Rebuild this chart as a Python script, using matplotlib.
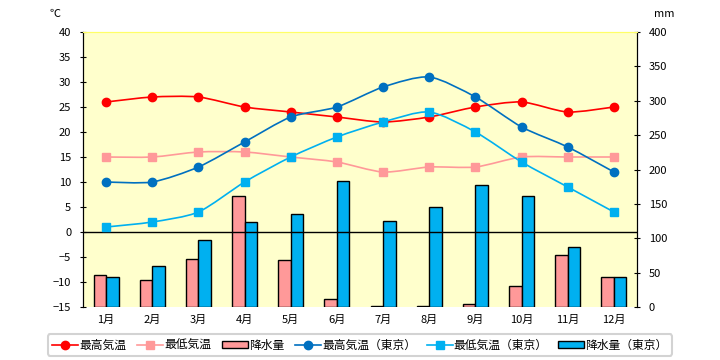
import numpy as np
import matplotlib
matplotlib.use("Agg")
from matplotlib import pyplot as plt
from matplotlib.path import Path
from matplotlib.patches import PathPatch, Patch
from matplotlib.lines import Line2D

plt.rcParams['font.family'] = ['Noto Sans CJK JP', 'DejaVu Sans']

months = ['1月', '2月', '3月', '4月', '5月', '6月',
          '7月', '8月', '9月', '10月', '11月', '12月']

# temperatures (deg C)
highLocal = [26, 27, 27, 25, 24, 23, 22, 23, 25, 26, 24, 25]
lowLocal = [15, 15, 16, 16, 15, 14, 12, 13, 13, 15, 15, 15]
highTokyo = [10, 10, 13, 18, 23, 25, 29, 31, 27, 21, 17, 12]
lowTokyo = [1, 2, 4, 10, 15, 19, 22, 24, 20, 14, 9, 4]

# precipitation (mm)
rainLocal = [47, 39, 70, 161, 69, 12, 1, 2, 5, 31, 75, 43]
rainTokyo = [43, 59, 98, 123, 136, 184, 125, 146, 178, 162, 88, 44]

names = ['最高気温', '最低気温', '降水量',
         '最高気温（東京）', '最低気温（東京）', '降水量（東京）']

cRed = '#FF0000'
cPink = '#FF9999'
cNavy = '#0070C0'
cCyan = '#00B0F0'


def smoothPath(x, y, k=1 / 8.0):
    # Excel style smoothed line: Catmull-Rom like segments as cubic Beziers
    pts = np.column_stack([x, y]).astype(float)
    verts = [pts[0]]
    codes = [Path.MOVETO]
    n = len(pts)
    for i in range(n - 1):
        p0 = pts[i - 1] if i > 0 else pts[i]
        p3 = pts[i + 2] if i + 2 < n else pts[i + 1]
        c1 = pts[i] + (pts[i + 1] - p0) * k
        c2 = pts[i + 1] - (p3 - pts[i]) * k
        verts += [c1, c2, pts[i + 1]]
        codes += [Path.CURVE4] * 3
    return Path(verts, codes)


fig = plt.figure(figsize=(7.2, 3.6), dpi=100)
axBar = fig.add_axes([83 / 720, 1 - 307 / 360, 554 / 720, 275 / 360])
axBar.set_facecolor('#FFFFCC')
axLine = axBar.twinx()

ind = np.arange(len(months))
width = 0.27
axBar.bar(ind - width / 2, rainLocal, width, color=cPink, edgecolor='black', linewidth=1)
axBar.bar(ind + width / 2, rainTokyo, width, color=cCyan, edgecolor='black', linewidth=1)
axBar.set_ylim(0, 400)
axBar.set_xlim(-0.5, 11.5)
axBar.yaxis.tick_right()
axBar.set_yticks(range(0, 401, 50))
axBar.tick_params(axis='y', direction='inout', length=5, labelsize=8, pad=6)
axBar.set_xticks(ind)
axBar.set_xticklabels(months, fontsize=8)
axBar.tick_params(axis='x', length=0, pad=6)

axLine.yaxis.tick_left()
axLine.set_ylim(-15, 40)
axLine.set_yticks(range(-15, 41, 5))
axLine.tick_params(axis='y', direction='inout', length=5, labelsize=8, pad=6)
axLine.axhline(0, color='black', linewidth=1)

series = [(highLocal, cRed, 'o'), (lowLocal, cPink, 's'),
          (highTokyo, cNavy, 'o'), (lowTokyo, cCyan, 's')]
for vals, col, mk in series:
    axLine.add_patch(PathPatch(smoothPath(ind, vals), facecolor='none',
                               edgecolor=col, linewidth=1.2))
    axLine.plot(ind, vals, linestyle='none', marker=mk, markersize=6,
                color=col, markeredgecolor=col)

for ax in (axBar, axLine):
    ax.spines['bottom'].set_visible(False)
    ax.spines['top'].set_color('#FFFF66')
    ax.spines['left'].set_color('black')
    ax.spines['right'].set_color('black')

fig.text(55 / 720, 1 - 14 / 360, '℃', fontsize=8, ha='center', va='center')
fig.text(664 / 720, 1 - 14 / 360, 'mm', fontsize=8, ha='center', va='center')

handles = [
    Line2D([], [], color=cRed, marker='o', markersize=6, linewidth=1.2),
    Line2D([], [], color=cPink, marker='s', markersize=6, linewidth=1.2),
    Patch(facecolor=cPink, edgecolor='black', linewidth=1),
    Line2D([], [], color=cNavy, marker='o', markersize=6, linewidth=1.2),
    Line2D([], [], color=cCyan, marker='s', markersize=6, linewidth=1.2),
    Patch(facecolor=cCyan, edgecolor='black', linewidth=1),
]
leg = fig.legend(handles, names, loc='center', bbox_to_anchor=(360 / 720, 1 - 345 / 360),
                 ncol=6, fontsize=8.5, frameon=True, fancybox=True,
                 handlelength=2.2, handleheight=0.5, handletextpad=0.1,
                 columnspacing=0.9, borderpad=0.35, borderaxespad=0)
leg.get_frame().set_edgecolor('#C8C8C8')
leg.get_frame().set_linewidth(1.5)

fig.savefig('out.png', dpi=100)
